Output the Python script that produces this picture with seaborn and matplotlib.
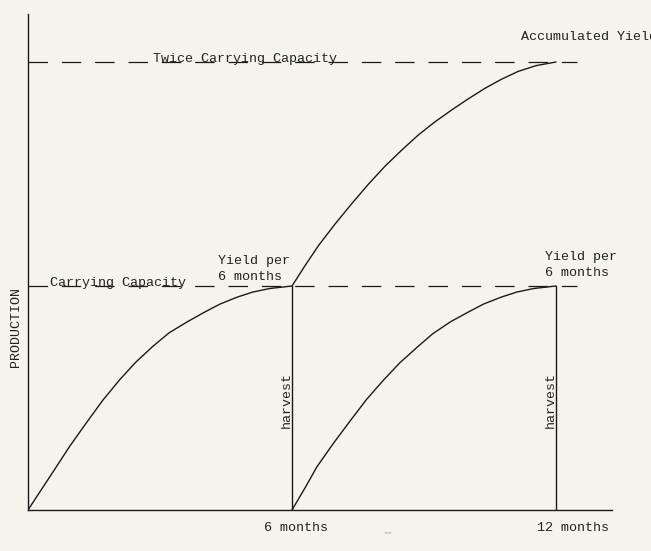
import numpy as np
import pandas as pd
import matplotlib
matplotlib.use("Agg")
import matplotlib.pyplot as plt
import seaborn as sns

# values (x in months, y in units of carrying capacity)
growth1_months = [0, 0.3, 0.575, 0.95, 1.33, 1.7, 2.09, 2.45, 2.84, 3.2, 3.61,
                  4.0, 4.36, 4.75, 5.11, 5.5, 6.0]
growth1_prod = [0, 0.09, 0.172, 0.285, 0.39, 0.49, 0.583, 0.66, 0.731, 0.79,
                0.839, 0.882, 0.919, 0.950, 0.973, 0.989, 1.0]

growth2_months = [6.0, 6.3, 6.57, 6.95, 7.33, 7.7, 8.08, 8.45, 8.84, 9.2, 9.6,
                  10.0, 10.36, 10.75, 11.11, 11.5, 12.0]
growth2_prod = [0, 0.10, 0.194, 0.30, 0.40, 0.495, 0.58, 0.657, 0.726, 0.787,
                0.84, 0.883, 0.92, 0.950, 0.973, 0.989, 1.0]

accum_months = [6.0, 6.3, 6.6, 6.98, 7.36, 7.73, 8.11, 8.49, 8.87, 9.25, 9.63,
                10.01, 10.39, 10.77, 11.14, 11.55, 12.0]
accum_prod = [1.0, 1.092, 1.18, 1.277, 1.368, 1.453, 1.534, 1.606, 1.674,
              1.733, 1.786, 1.836, 1.883, 1.924, 1.958, 1.984, 2.0]

harvest_months = [6, 12]
capacity_levels = [1, 2]
capacity_labels = ["Carrying Capacity", "Twice Carrying Capacity"]
capacity_end = 12.48

sns.set_style("white")
plt.rcParams["font.family"] = ["Liberation Mono", "DejaVu Sans Mono"]
plt.rcParams["lines.scale_dashes"] = False

bg = "#f6f3ec"
ink = "#1a1a1a"
txt = "#222222"

fig = plt.figure(figsize=(6.51, 5.51), dpi=100, facecolor=bg)
ax = fig.add_axes([28 / 651, 41 / 551, 584 / 651, 496 / 551])
ax.set_facecolor(bg)

df = pd.concat([
    pd.DataFrame({"t": growth1_months, "p": growth1_prod, "s": "g1"}),
    pd.DataFrame({"t": growth2_months, "p": growth2_prod, "s": "g2"}),
    pd.DataFrame({"t": accum_months, "p": accum_prod, "s": "acc"}),
])
for name, part in df.groupby("s"):
    sns.lineplot(data=part, x="t", y="p", ax=ax, color=ink, lw=1.0,
                 estimator=None, sort=True, solid_joinstyle="round")

for m in harvest_months:
    ax.plot([m, m], [0, 1], color=ink, lw=1.0)

for lvl in capacity_levels:
    ax.plot([0, capacity_end], [lvl, lvl], color=ink, lw=0.9,
            dashes=(14, 10))

ax.set_xlim(0, 584 / 44)
ax.set_ylim(0, 496 / 224)
ax.set_xticks([])
ax.set_yticks([])
ax.set_xlabel("")
ax.set_ylabel("")
sns.despine(ax=ax)
for s in ["left", "bottom"]:
    ax.spines[s].set_color(ink)
    ax.spines[s].set_linewidth(1.0)

fs = 9.6
ax.text(2.84, 2.0, capacity_labels[1], fontsize=fs, color=txt, va="baseline")
ax.text(0.5, 1.0, capacity_labels[0], fontsize=fs, color=txt, va="baseline")
ax.text(11.2, 2.11, "Accumulated Yield", fontsize=fs, color=txt,
        va="center", clip_on=False)

ax.text(4.32, 1.098, "Yield per", fontsize=fs, color=txt, va="baseline")
ax.text(4.32, 1.027, "6 months", fontsize=fs, color=txt, va="baseline")
ax.text(11.75, 1.118, "Yield per", fontsize=fs, color=txt, va="baseline")
ax.text(11.75, 1.045, "6 months", fontsize=fs, color=txt, va="baseline")

for m in harvest_months:
    ax.text(m - 0.13, 0.49, "harvest", fontsize=fs, color=txt, rotation=90,
            ha="center", va="center")

ax.text(6.1, -0.08, "6 months", fontsize=fs, color=txt, ha="center",
        va="center", clip_on=False)
ax.text(12.39, -0.08, "12 months", fontsize=fs, color=txt, ha="center",
        va="center", clip_on=False)
ax.text(8.18, -0.103, "TIME", fontsize=2.5, color="#9a9a9a", ha="center",
        va="center", clip_on=False)
ax.text(-0.27, 0.817, "PRODUCTION", fontsize=fs, color=txt, rotation=90,
        ha="center", va="center", clip_on=False)

fig.savefig("out.png", dpi=100, facecolor=bg)
